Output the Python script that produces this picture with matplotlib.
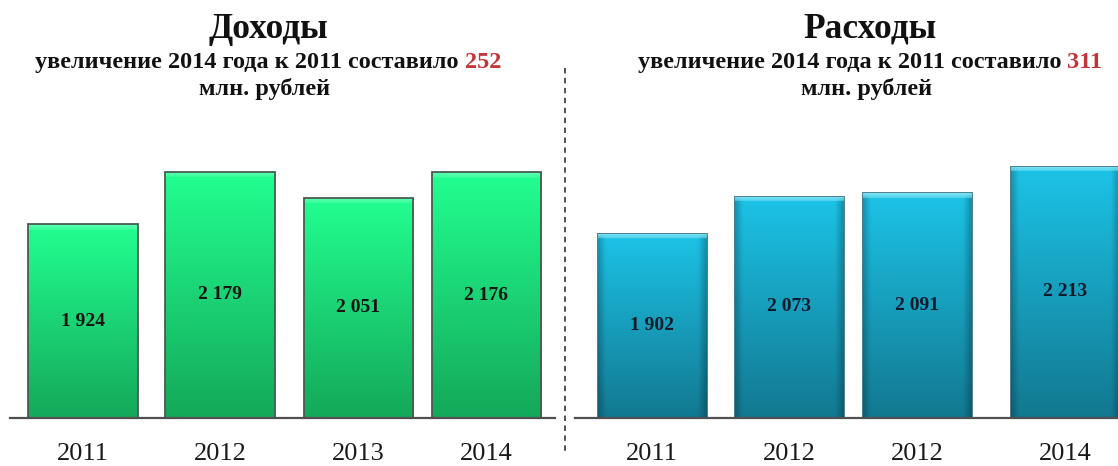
import matplotlib
matplotlib.use('Agg')
import matplotlib.pyplot as plt
import numpy as np
from matplotlib.colors import to_rgb
from matplotlib.lines import Line2D

# ---------------- data ----------------
years_income = ['2011', '2012', '2013', '2014']
income = [1924, 2179, 2051, 2176]
income_labels = ['1 924', '2 179', '2 051', '2 176']

years_exp = ['2011', '2012', '2012', '2014']
expenses = [1902, 2073, 2091, 2213]
expense_labels = ['1 902', '2 073', '2 091', '2 213']

titles = ['Доходы', 'Расходы']
sub_prefix = 'увеличение 2014 года к 2011 составило '
increase = ['252', '311']
sub_line2 = 'млн. рублей'

# ---------------- layout ----------------
W, H = 1118, 466
fig = plt.figure(figsize=(W / 100, H / 100), dpi=100)
fig.patch.set_facecolor('white')
SERIF = ['Liberation Serif', 'DejaVu Serif']


def fx(px):
    return px / W


def fy(py):
    return 1 - py / H


base_y, top_y = 418, 140
axL = fig.add_axes([fx(10), fy(base_y), 545 / W, (base_y - top_y) / H])
axR = fig.add_axes([fx(575), fy(base_y), 543 / W, (base_y - top_y) / H])

posL = [0, 1, 2.01, 2.945]
posR = [0, 1, 1.934, 3.014]
limsL = dict(x=(-0.533, 3.445), y=(980, 2333))
limsR = dict(x=(-0.562, 3.40), y=(1046, 2332))
BW = 0.80


def make_img(top, bottom, nrows, band_frac=0.0, band_col=None, side=0.0):
    top = np.array(to_rgb(top)); bottom = np.array(to_rgb(bottom))
    t = np.linspace(0, 1, nrows)[:, None]          # 0 bottom .. 1 top
    col = bottom + (top - bottom) * t
    ncols = 60
    img = np.repeat(col[:, None, :], ncols, axis=1)
    if side > 0:
        u = np.linspace(-1, 1, ncols)
        f = 1 - side * np.clip((np.abs(u) - 0.85) / 0.15, 0, 1)
        img = img * f[None, :, None]
    if band_frac > 0:
        nb = max(1, int(round(nrows * band_frac)))
        bc = np.array(to_rgb(band_col))
        for i in range(nb):
            a = 1 - i / nb * 0.6
            img[nrows - 1 - i] = img[nrows - 1 - i] * (1 - a) + bc * a
    return np.clip(img, 0, 1)


def draw_panel(ax, pos, vals, labels, years, lims, top, bottom, edge, elw,
               band=None, side=0.0, txtcol='#151515'):
    y0 = lims['y'][0]
    heights = [v - y0 for v in vals]
    bars = ax.bar(pos, heights, width=BW, bottom=y0, facecolor='none',
                  edgecolor=edge, linewidth=elw, zorder=3)
    for b, v in zip(bars, vals):
        x0 = b.get_x(); x1 = x0 + b.get_width()
        hpx = (v - y0) / (lims['y'][1] - y0) * (base_y - top_y)
        nrows = 300
        bf = (6.0 / hpx) if band else 0
        img = make_img(top, bottom, nrows, bf, band, side)
        im = ax.imshow(img, extent=[x0, x1, y0, v], origin='lower',
                       aspect='auto', zorder=2, interpolation='bilinear')
        im.set_clip_path(b)
    for p, v, lab in zip(pos, vals, labels):
        ax.text(p, (y0 + v) / 2, lab, ha='center', va='center',
                fontsize=14, fontweight='bold', family=SERIF,
                color=txtcol, zorder=5)
    ax.set_xlim(*lims['x'])
    ax.set_ylim(*lims['y'])
    ax.set_xticks(pos)
    ax.set_xticklabels(years, fontsize=19, family=SERIF, color='#1a1a1a')
    ax.tick_params(axis='x', length=0, pad=18)
    ax.set_yticks([])
    for s in ['left', 'right', 'top']:
        ax.spines[s].set_visible(False)
    ax.spines['bottom'].set_color('#505050')
    ax.spines['bottom'].set_linewidth(1.6)
    ax.spines['bottom'].set_zorder(4)
    ax.patch.set_alpha(0)


draw_panel(axL, posL, income, income_labels, years_income, limsL,
           top='#22ff90', bottom='#14a85a', edge='#4a5a52', elw=1.3,
           band='#5cffb0', side=0.0)
draw_panel(axR, posR, expenses, expense_labels, years_exp, limsR,
           top='#1cc4e8', bottom='#127890', edge='#4f7f8f', elw=0.7,
           band='#8ae8f8', side=0.25, txtcol='#0f1a2a')

# ---------------- titles ----------------
SUB = 17.5
centers = [268, 870]
for c, t in zip(centers, titles):
    fig.text(fx(c), fy(38), t, ha='center', va='baseline', fontsize=25.5,
             fontweight='bold', family=SERIF, color='#111111')
    fig.text(fx(c - 3), fy(95), sub_line2, ha='center', va='baseline',
             fontsize=SUB, fontweight='bold', family=SERIF, color='#111111')

renderer = fig.canvas.get_renderer()
for c, inc in zip(centers, increase):
    tall = fig.text(0, 0, sub_prefix + inc, fontsize=SUB, fontweight='bold',
                    family=SERIF)
    w_all = tall.get_window_extent(renderer).width
    tall.remove()
    tr = fig.text(0, 0, inc, fontsize=SUB, fontweight='bold', family=SERIF)
    w2 = tr.get_window_extent(renderer).width
    tr.remove()
    x0 = c - w_all / 2
    fig.text(fx(x0), fy(68), sub_prefix, ha='left', va='baseline',
             fontsize=SUB, fontweight='bold', family=SERIF, color='#111111')
    fig.text(fx(x0 + w_all - w2), fy(68), inc, ha='left', va='baseline',
             fontsize=SUB, fontweight='bold', family=SERIF, color='#c0363a')

# separator
fig.add_artist(Line2D([fx(565), fx(565)], [fy(68), fy(452)],
                      transform=fig.transFigure, color='#444444', lw=1.3,
                      ls=(0, (3, 2.5))))

fig.savefig('out.png', dpi=100, facecolor='white')
